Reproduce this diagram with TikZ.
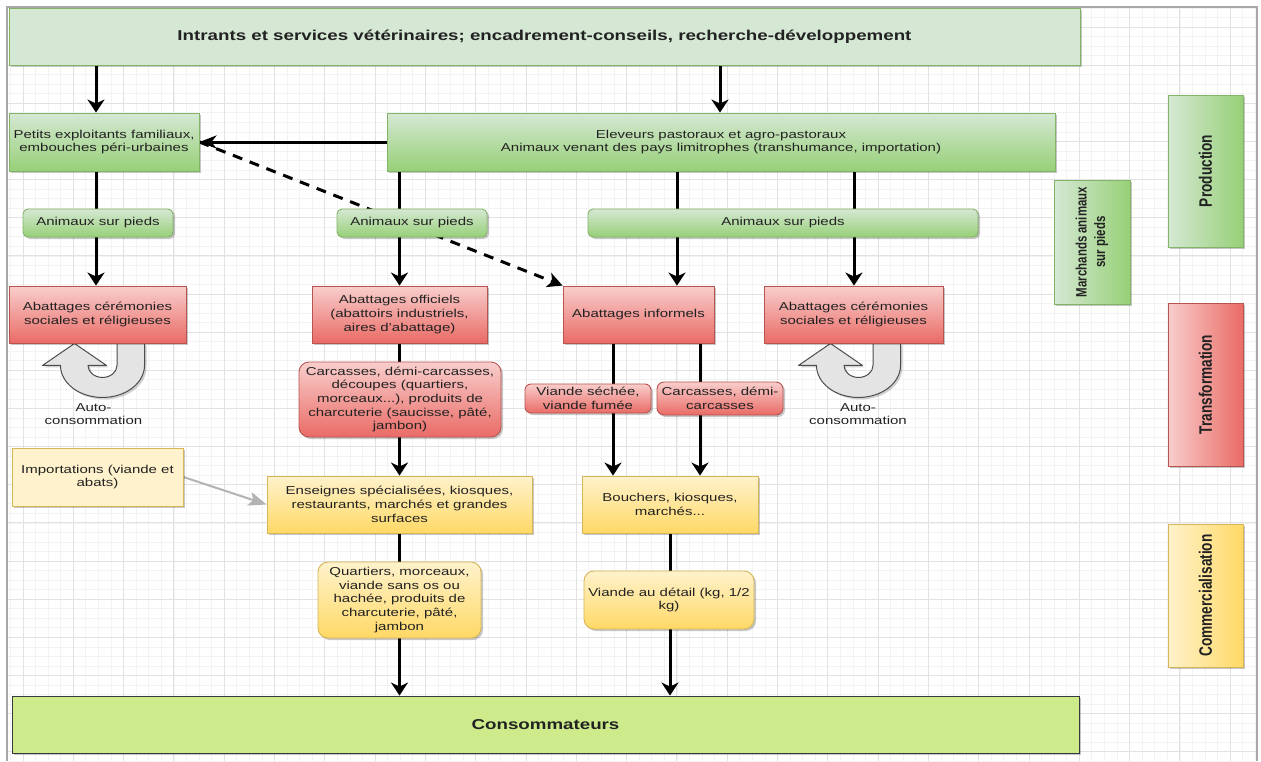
\documentclass[tikz,border=0pt]{standalone}
\usepackage{fontspec}
\setmainfont{Liberation Sans}[FakeStretch=1.31]
\newfontfamily\sidefont{Liberation Sans}[FakeStretch=0.76]
\usetikzlibrary{arrows.meta,shadows}

\pgfdeclarelayer{grid}
\pgfdeclarelayer{edges}
\pgfsetlayers{grid,edges,main}

\definecolor{gLight}{HTML}{D5E8D4}
\definecolor{gDark}{HTML}{97D077}
\definecolor{gLine}{HTML}{82B366}
\definecolor{rLight}{HTML}{F8CECC}
\definecolor{rDark}{HTML}{EA6B66}
\definecolor{rLine}{HTML}{B85450}
\definecolor{yLight}{HTML}{FFF2CC}
\definecolor{yDark}{HTML}{FFD966}
\definecolor{yLine}{HTML}{D6B656}
\definecolor{cFill}{HTML}{CDEB8B}
\definecolor{cLine}{HTML}{36393D}
\definecolor{ink}{HTML}{222222}
\definecolor{gridMajor}{HTML}{E2E2E2}
\definecolor{gridMinor}{HTML}{F3F3F3}
\definecolor{frameGrey}{HTML}{A8A8A8}
\definecolor{uFill}{HTML}{E4E4E4}
\definecolor{uLine}{HTML}{4D4D4D}
\definecolor{gArrow}{HTML}{B3B3B3}

\newcommand\diagtxt{\fontsize{11.45}{13.7}\selectfont}
\newcommand\diagbold{\fontsize{14.3}{17}\selectfont\bfseries}
\newcommand\sidetxt{\sidefont\bfseries\fontsize{18}{20}\selectfont}
\newcommand\sidesmall{\sidefont\bfseries\fontsize{15.1}{18.5}\selectfont}

\tikzset{
  wh/.style 2 args={minimum width=#1pt, minimum height=#2pt},
  boxshadow/.style={drop shadow={shadow xshift=2pt, shadow yshift=-2pt, opacity=0.22, fill=black}},
  box/.style={rectangle, draw, line width=0.9pt, inner sep=1pt, align=center,
    text=ink, font=\diagtxt, boxshadow},
  gbox/.style={box, draw=gLine, top color=gLight, bottom color=gDark},
  rbox/.style={box, draw=rLine, top color=rLight, bottom color=rDark},
  ybox/.style={box, draw=yLine, top color=yLight, bottom color=yDark},
  gside/.style={box, draw=gLine, left color=gLight, right color=gDark},
  rside/.style={box, draw=rLine, left color=rLight, right color=rDark},
  yside/.style={box, draw=yLine, left color=yLight, right color=yDark},
  sidelabel/.style={rotate=90, align=center, text=ink, inner sep=0pt},
  lbl/.style={align=center, text=ink, font=\diagtxt, inner sep=0pt},
  flow/.style={line width=3pt, draw=black, -{Stealth[length=13pt, width=17pt, inset=4pt]}},
  hflow/.style={line width=3pt, draw=black, -{Stealth[length=17pt, width=13pt, inset=5pt]}},
  dflow/.style={line width=3pt, draw=black, dash pattern=on 10pt off 8pt,
    -{Stealth[length=15pt, width=15pt, inset=4pt]}},
  gflow/.style={line width=2pt, draw=gArrow, -{Stealth[length=18pt, width=14pt, inset=4pt]}},
  uturn/.pic={
    % soft shadow of the return arrow
    \fill[black, opacity=0.18, shift={(2,2)}]
      (19.5,0) -- (47,0) -- (47,22)
      .. controls (47,39.7) and (28.2,54) .. (5,54)
      .. controls (-18.2,54) and (-37,39.7) .. (-37,22)
      -- (-55,22) -- (-23,0) -- (9,22) -- (-9.5,22)
      .. controls (-9.5,28.6) and (-3,34) .. (5,34)
      .. controls (13,34) and (19.5,28.6) .. (19.5,22) -- cycle;
    % the curved return arrow itself
    \draw[uLine, line width=1pt, fill=uFill, line join=round]
      (19.5,0) -- (47,0) -- (47,22)
      .. controls (47,39.7) and (28.2,54) .. (5,54)
      .. controls (-18.2,54) and (-37,39.7) .. (-37,22)
      -- (-55,22) -- (-23,0) -- (9,22) -- (-9.5,22)
      .. controls (-9.5,28.6) and (-3,34) .. (5,34)
      .. controls (13,34) and (19.5,28.6) .. (19.5,22) -- cycle;
  }
}

\begin{document}
\begin{tikzpicture}[x=1pt, y=-1pt]
\useasboundingbox (0,0) rectangle (1261,761);

% ---------- grid paper and frame ----------
\begin{pgfonlayer}{grid}
  \fill[white] (0,0) rectangle (1261,761);
  \begin{scope}
    \clip (8,8) rectangle (1256,761);
    \foreach \i in {0,...,99}
      \draw[gridMinor, line width=0.8pt] ({10.43+12.575*\i},8) -- ++(0,753);
    \foreach \i in {0,...,79}
      \draw[gridMinor, line width=0.8pt] (8,{7.925+9.5375*\i}) -- ++(1248,0);
    \foreach \i in {0,...,24}
      \draw[gridMajor, line width=1pt] ({23+50.3*\i},8) -- ++(0,753);
    \foreach \i in {0,...,19}
      \draw[gridMajor, line width=1pt] (8,{27+38.15*\i}) -- ++(1248,0);
  \end{scope}
  \draw[frameGrey, line width=2pt] (7,761) -- (7,7) -- (1257,7) -- (1257,761);
\end{pgfonlayer}

% ---------- column guides for the vertical flows ----------
\coordinate (colA) at (96,0);
\coordinate (colE) at (720,0);
\coordinate (colC) at (677,0);
\coordinate (colD) at (854,0);
\coordinate (colF) at (613,0);
\coordinate (colG) at (700,0);

% ---------- boxes ----------
\node[box, draw=gLine, fill=gLight, wh={1071}{57}, font=\diagbold] (top) at (544.5,36.5)
  {Intrants et services vétérinaires; encadrement-conseils, recherche-développement};

\node[gbox, wh={190}{58}] (petits) at (104,142)
  {Petits exploitants familiaux,\\embouches péri-urbaines};
\node[gbox, wh={668}{58}] (eleveurs) at (721,142)
  {Eleveurs pastoraux et agro-pastoraux\\Animaux venant des pays limitrophes (transhumance, importation)};

\node[gbox, rounded corners=5pt, wh={150}{28}] (animL) at (98,223) {Animaux sur pieds};
\node[gbox, rounded corners=5pt, wh={150}{28}] (animM) at (412,223) {Animaux sur pieds};
\node[gbox, rounded corners=5pt, wh={390}{28}] (animR) at (783,223) {Animaux sur pieds};

\node[rbox, wh={177}{57}] (cerL) at (97.5,314.5)
  {Abattages cérémonies\\sociales et réligieuses};
\node[rbox, wh={175}{57}] (officiels) at (399.5,314.5)
  {Abattages officiels\\(abattoirs industriels,\\aires d'abattage)};
\node[rbox, wh={151}{57}] (informels) at (638.5,314.5) {Abattages informels};
\node[rbox, wh={179}{57}] (cerR) at (853.5,314.5)
  {Abattages cérémonies\\sociales et réligieuses};

\node[rbox, rounded corners=10pt, wh={202}{75}] (carcA) at (400,399.5)
  {Carcasses, démi-carcasses,\\découpes (quartiers,\\morceaux...), produits de\\charcuterie (saucisse, pâté,\\jambon)};
\node[rbox, rounded corners=6pt, wh={126}{29}] (sechee) at (588,398.5)
  {Viande séchée,\\viande fumée};
\node[rbox, rounded corners=7pt, wh={126}{33}] (carcB) at (720,398.5)
  {Carcasses, démi-\\carcasses};

\node[box, draw=yLine, fill=yLight, wh={171}{58}] (import) at (97.5,477)
  {Importations (viande et\\abats)};
\node[ybox, wh={265}{57}] (enseignes) at (399.5,504.5)
  {Enseignes spécialisées, kiosques,\\restaurants, marchés et grandes\\surfaces};
\node[ybox, wh={176}{57}] (bouchers) at (670,504.5)
  {Bouchers, kiosques,\\marchés...};

\node[ybox, rounded corners=10pt, wh={163}{76}] (quartiers) at (399.5,600)
  {Quartiers, morceaux,\\viande sans os ou\\hachée, produits de\\charcuterie, pâté,\\jambon};
\node[ybox, rounded corners=10pt, wh={170}{58}] (detail) at (669,600)
  {Viande au détail (kg, 1/2\\kg)};

\node[box, draw=cLine, fill=cFill, wh={1067}{57}, font=\diagbold] (conso) at (545.5,724.5)
  {Consommateurs};

% ---------- stage labels on the right ----------
\node[gside, wh={75}{152}] (prod) at (1205.5,171) {};
\node[sidelabel, font=\sidetxt] (prodT) at (prod.center) {Production};
\node[gside, wh={76}{124}] (march) at (1092,242) {};
\node[sidelabel, font=\sidesmall] (marchT) at (march.center) {Marchands animaux\\sur pieds};
\node[rside, wh={75}{163}] (transf) at (1205.5,384.5) {};
\node[sidelabel, font=\sidetxt] (transfT) at (transf.center) {Transformation};
\node[yside, wh={75}{143}] (comm) at (1205.5,595.5) {};
\node[sidelabel, font=\sidetxt] (commT) at (comm.center) {Commercialisation};

% ---------- self-consumption loops ----------
\node[lbl] (autoL) at (93.5,414) {Auto-\\consommation};
\node[lbl] (autoR) at (858,414) {Auto-\\consommation};

% ---------- connectors ----------
\begin{pgfonlayer}{edges}
  \pic at (cerL.south) {uturn};
  \pic at (cerR.south) {uturn};

  \draw[flow] (top.south -| colA) -- (petits.north -| colA);
  \draw[flow] (top.south -| colE) -- (eleveurs.north -| colE);
  \draw[hflow] (eleveurs.west) -- (petits.east);
  \draw[dflow] (petits.east) -- (informels.north west);

  \draw[flow] (petits.south -| colA) -- (cerL.north -| colA);
  \draw[flow] (eleveurs.south -| officiels.north) -- (officiels.north);
  \draw[flow] (eleveurs.south -| colC) -- (informels.north -| colC);
  \draw[flow] (eleveurs.south -| colD) -- (cerR.north -| colD);

  \draw[flow] (officiels.south) -- (enseignes.north);
  \draw[flow] (informels.south -| colF) -- (bouchers.north -| colF);
  \draw[flow] (informels.south -| colG) -- (bouchers.north -| colG);

  \draw[gflow] (import.east) -- (enseignes.west);

  \draw[flow] (enseignes.south) -- (enseignes.south |- conso.north);
  \draw[flow] (bouchers.south) -- (bouchers.south |- conso.north);
\end{pgfonlayer}
\end{tikzpicture}
\end{document}
